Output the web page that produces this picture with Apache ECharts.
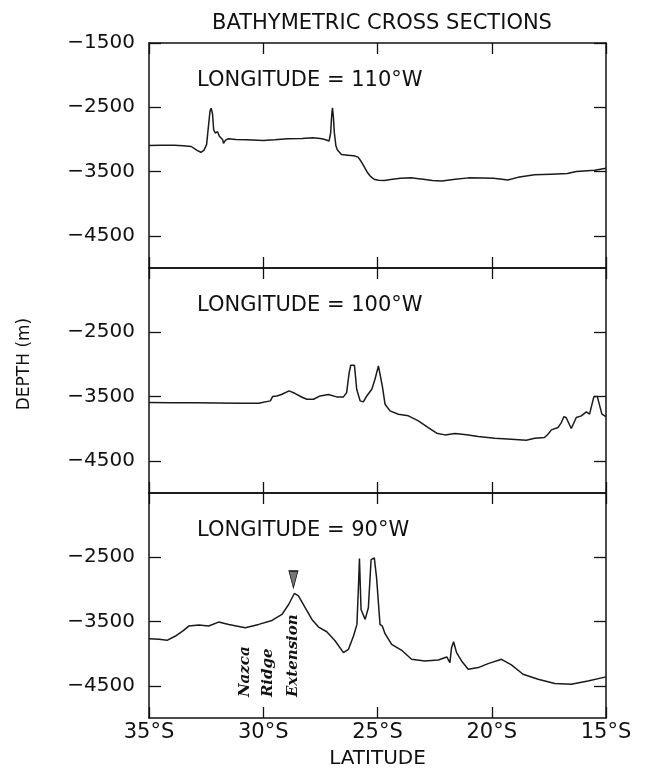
<!DOCTYPE html>
<html><head><meta charset="utf-8">
<script src="https://cdn.jsdelivr.net/npm/echarts@6/dist/echarts.min.js"></script>
<style>html,body{margin:0;padding:0;background:#fff}#c{width:645px;height:773px}</style>
</head><body><div id="c"></div>
<script>
// ---- data (latitude: negative = south, depth in m) ----
const lat110 = [-35,-34.5,-33.9,-33.5,-33.15,-32.9,-32.73,-32.6,-32.48,-32.4,-32.33,-32.28,-32.22,-32.17,-32.1,-32.0,-31.92,-31.85,-31.78,-31.74,-31.65,-31.53,-31.2,-30.72,-30.0,-29.5,-28.92,-28.3,-27.84,-27.5,-27.3,-27.12,-27.05,-27.0,-26.97,-26.93,-26.89,-26.82,-26.76,-26.58,-26.3,-26.04,-25.85,-25.72,-25.59,-25.45,-25.32,-25.15,-24.96,-24.7,-24.42,-24.0,-23.53,-23.2,-22.99,-22.6,-22.18,-21.6,-21.01,-20.4,-19.93,-19.55,-19.3,-18.85,-18.13,-17.4,-16.69,-16.3,-15.97,-15.5,-15];
const depth110 = [-3095,-3090,-3090,-3100,-3110,-3170,-3200,-3170,-3080,-2800,-2560,-2515,-2600,-2850,-2900,-2880,-2950,-2920,-3000,-3060,-3010,-2990,-3000,-3005,-3015,-3005,-2990,-2985,-2975,-2985,-3000,-3025,-2900,-2600,-2510,-2650,-2890,-3100,-3160,-3235,-3245,-3255,-3275,-3340,-3420,-3510,-3570,-3620,-3635,-3640,-3625,-3605,-3595,-3610,-3620,-3640,-3648,-3620,-3598,-3600,-3605,-3620,-3632,-3590,-3550,-3540,-3530,-3500,-3492,-3480,-3450];

const lat100 = [-35,-34,-33,-32,-31,-30.2,-29.69,-29.59,-29.4,-29.18,-28.87,-28.6,-28.3,-28.09,-27.8,-27.51,-27.15,-26.79,-26.49,-26.35,-26.24,-26.17,-26.01,-25.91,-25.76,-25.62,-25.47,-25.25,-25.11,-24.96,-24.89,-24.79,-24.67,-24.45,-24.09,-23.65,-23.21,-22.78,-22.41,-22.05,-21.61,-21.1,-20.59,-19.87,-19.14,-18.49,-18.12,-17.69,-17.54,-17.39,-17.10,-16.95,-16.84,-16.74,-16.52,-16.30,-16.08,-15.86,-15.72,-15.53,-15.38,-15.18,-15];
const depth100 = [-3593,-3595,-3598,-3600,-3602,-3604,-3567,-3500,-3490,-3464,-3412,-3453,-3510,-3541,-3541,-3490,-3469,-3505,-3505,-3438,-3127,-3013,-3013,-3386,-3567,-3583,-3490,-3386,-3231,-3023,-3030,-3334,-3619,-3723,-3775,-3800,-3878,-3982,-4070,-4096,-4075,-4095,-4122,-4148,-4163,-4179,-4148,-4137,-4085,-4018,-3982,-3900,-3811,-3830,-3997,-3826,-3800,-3738,-3774,-3500,-3500,-3774,-3811];

const lat90 = [-35,-34.56,-34.21,-33.84,-33.5,-33.26,-32.82,-32.39,-31.95,-31.51,-30.79,-30.2,-29.62,-29.18,-28.89,-28.64,-28.46,-28.16,-27.87,-27.58,-27.22,-26.85,-26.49,-26.27,-26.05,-25.90,-25.83,-25.79,-25.72,-25.54,-25.40,-25.28,-25.14,-25.04,-24.89,-24.79,-24.67,-24.38,-23.94,-23.51,-22.93,-22.34,-21.97,-21.83,-21.76,-21.67,-21.54,-21.32,-21.03,-20.59,-20.16,-19.57,-19.14,-18.63,-17.97,-17.24,-16.52,-15.79,-15];
const depth90 = [-3766,-3776,-3792,-3725,-3640,-3570,-3554,-3570,-3508,-3544,-3596,-3544,-3482,-3389,-3234,-3063,-3101,-3286,-3466,-3585,-3658,-3802,-3983,-3932,-3725,-3544,-2924,-2520,-3311,-3466,-3286,-2536,-2510,-2820,-3544,-3570,-3689,-3854,-3947,-4087,-4112,-4097,-4050,-4138,-3906,-3813,-3983,-4112,-4242,-4216,-4154,-4087,-4174,-4319,-4397,-4464,-4474,-4423,-4360];

const panelLabels = ['LONGITUDE = 110°W','LONGITUDE = 100°W','LONGITUDE = 90°W'];
const latTickLabels = ['35°S','30°S','25°S','20°S','15°S'];
const depthTicksTop = [-4500,-3500,-2500,-1500];
const depthTicksLower = [-4500,-3500,-2500];
const ridgeMarker = [-28.68, -2846];
const annoText = ['Nazca','Ridge','Extension'];
const annoLat = [-30.79,-29.77,-28.68];
const annoDepth = -4675;

// ---- layout ----
const FONT = 'DejaVu Sans';
const INK = '#111';
const gridTops = [43, 268, 493];
const GH = 225, GL = 149, GR = 39;
const axLine = {show:true, lineStyle:{color:INK, width:1.5}};
const tickStyle = {color:INK, width:1.3};

const zip = (a,b)=>a.map((v,i)=>[v,b[i]]);
const series = [[lat110,depth110],[lat100,depth100],[lat90,depth90]];

const grid=[], xAxis=[], yAxis=[], ser=[];
for (let i=0;i<3;i++){
  grid.push({left:GL, right:GR, top:gridTops[i], height:GH, containLabel:false});
  const xb = {gridIndex:i, type:'value', min:-35, max:-15, interval:5, position:'bottom',
    axisLine:axLine, splitLine:{show:false},
    axisTick:{show:true, inside:true, length:11, lineStyle:tickStyle},
    axisLabel:{show:i===2, margin:4, fontFamily:FONT, fontSize:21, color:INK,
      formatter:(v)=>latTickLabels[Math.round((v+35)/5)]}};
  if (i===2){ xb.name='LATITUDE'; xb.nameLocation='middle'; xb.nameGap=31;
    xb.nameTextStyle={fontFamily:FONT, fontSize:20, color:INK}; }
  xAxis.push(xb);
  xAxis.push({gridIndex:i, type:'value', min:-35, max:-15, interval:5, position:'top',
    axisLine:axLine, splitLine:{show:false},
    axisTick:{show:true, inside:true, length:11, lineStyle:tickStyle},
    axisLabel:{show:false}});
  const ticks = i===0 ? depthTicksTop : depthTicksLower;
  yAxis.push({gridIndex:i, type:'value', min:-5000, max:-1500, position:'left',
    axisLine:axLine, splitLine:{show:false},
    axisTick:{show:true, inside:true, length:12, lineStyle:tickStyle, customValues:ticks},
    axisLabel:{show:true, margin:14, fontFamily:FONT, fontSize:20, color:INK, customValues:ticks,
      formatter:(v)=>'\u2212'+Math.abs(v)}});
  yAxis.push({gridIndex:i, type:'value', min:-5000, max:-1500, position:'right',
    axisLine:axLine, splitLine:{show:false},
    axisTick:{show:true, inside:true, length:12, lineStyle:tickStyle, customValues:ticks},
    axisLabel:{show:false}});
  const s = {type:'line', name:panelLabels[i], xAxisIndex:2*i, yAxisIndex:2*i,
    data:zip(series[i][0],series[i][1]), showSymbol:false, symbol:'none',
    lineStyle:{color:'#1a1a1a', width:1.5}, silent:true, animation:false};
  if (i===2){
    const annoItems = annoText.map((t,k)=>({coord:[annoLat[k],annoDepth], symbol:'circle', symbolSize:0,
      label:{show:true, formatter:t, position:'inside', rotate:90, align:'left', verticalAlign:'middle',
        fontFamily:'DejaVu Serif', fontStyle:'italic', fontWeight:'bold', fontSize:15, color:INK}}));
    s.markPoint = {animation:false, silent:true,
      data:[{coord:ridgeMarker, symbol:'triangle', symbolRotate:180, symbolSize:[9,17],
        itemStyle:{color:'#777', borderColor:INK, borderWidth:1}, label:{show:false}}].concat(annoItems)};
  }
  ser.push(s);
}

const graphic = panelLabels.map((t,i)=>({type:'text', x:197, y:gridTops[i]+38, silent:true,
  style:{text:t, font:'21px "DejaVu Sans"', fill:INK, textAlign:'left', textVerticalAlign:'middle', align:'left', verticalAlign:'middle'}}));
graphic.push({type:'text', x:25, y:364, rotation:Math.PI/2, silent:true,
  style:{text:'DEPTH (m)', font:'17px "DejaVu Sans"', fill:INK, textAlign:'center', textVerticalAlign:'middle', align:'center', verticalAlign:'middle'}});

const chart = echarts.init(document.getElementById('c'), null, {renderer:'canvas'});
chart.setOption({
  animation:false, backgroundColor:'#fff',
  title:{text:'BATHYMETRIC CROSS SECTIONS', left:377, top:8, textAlign:'center',
    textStyle:{fontFamily:FONT, fontSize:21, fontWeight:'normal', color:INK}},
  grid, xAxis, yAxis, series:ser, graphic
});
</script></body></html>
